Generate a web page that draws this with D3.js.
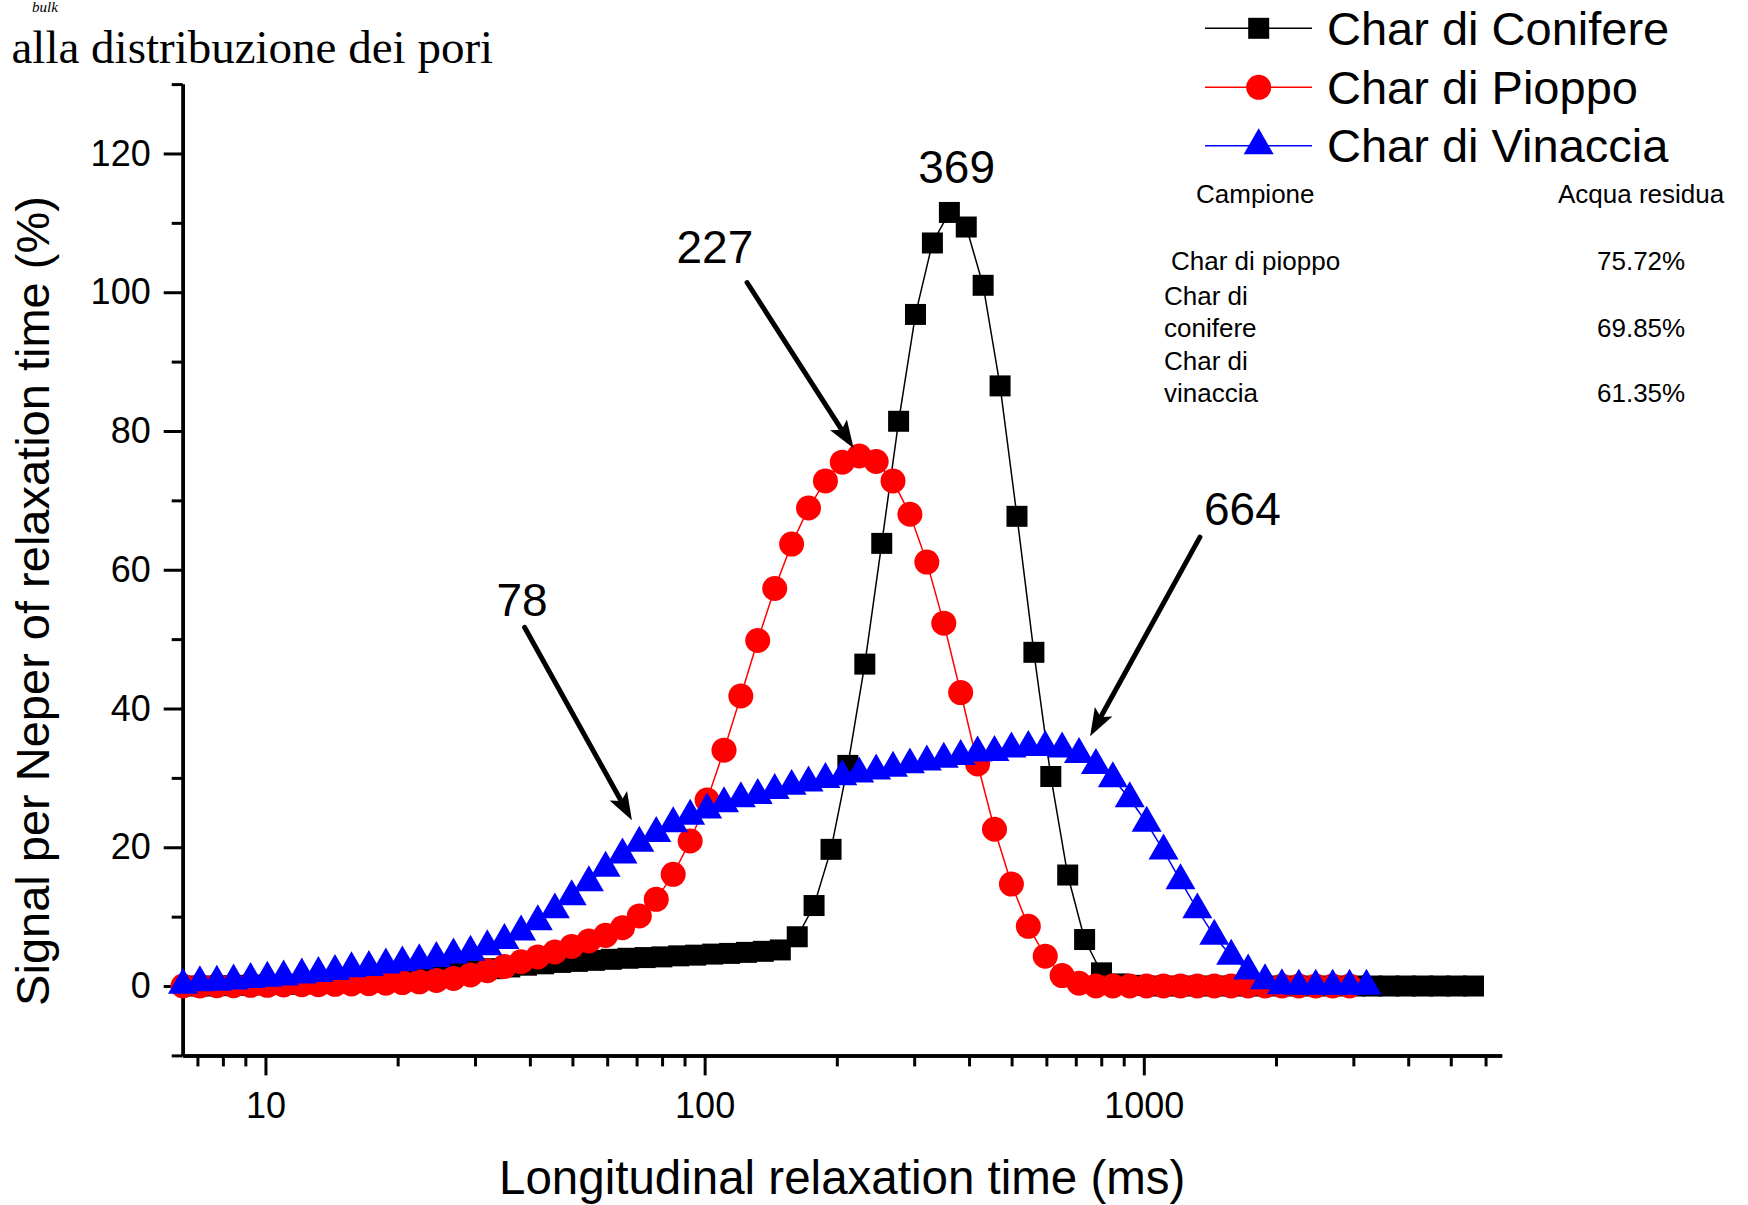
<!DOCTYPE html>
<html lang="it">
<head>
<meta charset="utf-8">
<title>Distribuzione dei tempi di rilassamento</title>
<script src="https://cdn.jsdelivr.net/npm/d3@7"></script>
<style>
  html, body { margin: 0; padding: 0; background: #fff; }
  svg { display: block; }
</style>
</head>
<body>
<div id="grafico"></div>
<script>
// Griglia dei tempi T1 (ms) per conifere
const tempiConifere = [6.68, 7.30, 7.98, 8.71, 9.52, 10.4, 11.4, 12.4, 13.6, 14.8,
  16.2, 17.7, 19.4, 21.2, 23.1, 25.3, 27.6, 30.2, 32.9, 36.0,
  39.3, 43.0, 47.0, 51.3, 56.1, 61.3, 66.9, 73.2, 79.9, 87.3,
  95.4, 104.3, 114.0, 124.5, 136.0, 148.7, 162.5, 177.5, 194.0, 211.9,
  231.6, 253.1, 276.5, 302.1, 330.1, 360.8, 394.2, 430.7, 470.7, 514.3,
  562.0, 614.1, 671.0, 733.2, 801.1, 875.4, 956.5, 1045, 1142, 1248,
  1363, 1490, 1628, 1779, 1944, 2124, 2321, 2536, 2772, 3028,
  3309, 3616, 3951, 4317, 4717, 5154, 5632];

// Griglia dei tempi T1 (ms) per pioppo e vinaccia
const tempiGriglia = [6.49, 7.09, 7.75, 8.46, 9.25, 10.1, 11.0, 12.1, 13.2, 14.4,
  15.7, 17.2, 18.8, 20.5, 22.4, 24.5, 26.8, 29.3, 32.0, 35.0,
  38.2, 41.7, 45.6, 49.8, 54.5, 59.5, 65.0, 71.0, 77.6, 84.8,
  92.7, 101.3, 110.7, 120.9, 132.1, 144.4, 157.8, 172.4, 188.4, 205.8,
  224.9, 245.8, 268.5, 293.4, 320.6, 350.4, 382.8, 418.3, 457.1, 499.5,
  545.8, 596.4, 651.6, 712.0, 778.0, 850.1, 928.9, 1015, 1109, 1212,
  1324, 1447, 1581, 1728, 1888, 2063, 2254, 2463, 2692, 2941, 3214];

// Segnale per Neper (%)
const conifere = [0, 0, 0.05, 0.1, 0.15, 0.2, 0.25, 0.3, 0.4, 0.5,
  0.6, 0.75, 0.9, 1.1, 1.35, 1.6, 1.9, 2.2, 2.5, 2.75,
  3.0, 3.2, 3.4, 3.55, 3.7, 3.85, 4.0, 4.1, 4.2, 4.35,
  4.45, 4.6, 4.7, 4.85, 5.0, 5.2, 7.1, 11.6, 19.7, 31.8,
  46.4, 63.8, 81.4, 96.8, 107.1, 111.5, 109.4, 101.0, 86.5, 67.7,
  48.1, 30.2, 16.0, 6.7, 1.9, 0.3, 0.1, 0, 0, 0,
  0, 0, 0, 0, 0, 0, 0, 0, 0, 0,
  0, 0, 0, 0, 0, 0, 0];

const pioppo = [0, 0, 0.05, 0.05, 0.1, 0.1, 0.15, 0.2, 0.2, 0.25,
  0.3, 0.35, 0.4, 0.5, 0.6, 0.8, 1.1, 1.6, 2.2, 2.8,
  3.5, 4.2, 4.9, 5.7, 6.5, 7.3, 8.4, 10.1, 12.5, 16.1,
  20.9, 26.8, 34.0, 41.8, 49.8, 57.3, 63.7, 68.9, 72.8, 75.5,
  76.4, 75.6, 72.8, 68.0, 61.1, 52.3, 42.3, 32.0, 22.6, 14.7,
  8.6, 4.3, 1.5, 0.4, 0, 0, 0, 0, 0, 0,
  0, 0, 0, 0, 0, 0, 0, 0, 0, 0];

const vinaccia = [0.15, 0.48, 0.58, 0.76, 0.95, 1.15, 1.34, 1.63, 1.82, 2.1,
  2.5, 2.7, 3.07, 3.36, 3.65, 4.0, 4.5, 4.9, 5.7, 6.6,
  7.8, 9.3, 11.0, 12.9, 14.9, 17.0, 18.9, 20.6, 22.0, 23.4,
  24.5, 25.4, 26.3, 27.0, 27.5, 28.2, 28.8, 29.3, 29.8, 30.2,
  30.6, 31.0, 31.4, 31.9, 32.3, 32.7, 33.1, 33.6, 33.7, 34.2,
  34.4, 34.4, 34.2, 33.4, 31.8, 29.9, 27.0, 23.5, 19.5, 15.2,
  11.0, 7.2, 4.3, 2.2, 0.8, 0.05, 0, 0, 0, 0, 0];

// Tick degli assi
const tickY = [0, 20, 40, 60, 80, 100, 120];
const tickYMinori = [-10, 10, 30, 50, 70, 90, 110, 130];
const tickX = [10, 100, 1000];
const tickXMinori = [7, 8, 9, 20, 30, 40, 50, 60, 70, 80, 90,
  200, 300, 400, 500, 600, 700, 800, 900, 2000, 3000, 4000, 5000, 6000];

// Legenda e tabella
const nomiSerie = ["Char di Conifere", "Char di Pioppo", "Char di Vinaccia"];
const campioni = [["Char di pioppo"], ["Char di", "conifere"], ["Char di", "vinaccia"]];
const acquaResidua = ["75.72%", "69.85%", "61.35%"];

// Etichette dei picchi (tempo ms, segnale %)
const etichette = ["227", "369", "664", "78"];
const etichetteT = [105.5, 374.8, 1677, 38.4];
const etichetteV = [104.2, 115.7, 66.5, 53.3];
// Frecce: [t inizio, v inizio, t punta, v punta]
const frecce = [[124.9, 101.4, 218.4, 77.5], [1342, 64.7, 754.6, 36.0], [38.9, 51.7, 68.3, 23.9]];

const font = "'Liberation Sans', Arial, sans-serif";
const serif = "'Liberation Serif', 'Times New Roman', serif";
const W = 1748, H = 1205;
const margin = { top: 84.1, left: 182.7 };
const width = 1319, height = 971.3;

const root = d3.select("#grafico").append("svg")
  .attr("width", W).attr("height", H)
  .style("font-family", font);

const svg = root.append("g")
  .attr("transform", `translate(${margin.left}, ${margin.top})`);

const x = d3.scaleLog().domain([6.48, 6530]).range([0, width]);
const y = d3.scaleLinear().domain([-10, 130]).range([height, 0]);

// Assi
function stileAsse(g) {
  g.select(".domain").attr("stroke", "#000").attr("stroke-width", 3.5);
  g.selectAll(".tick line").attr("stroke", "#000").attr("stroke-width", 3);
}

svg.append("g")
  .call(d3.axisLeft(y).tickValues(tickYMinori).tickSize(11).tickSizeOuter(0).tickFormat(""))
  .call(stileAsse);
const assey = svg.append("g")
  .call(d3.axisLeft(y).tickValues(tickY).tickSize(19).tickSizeOuter(0).tickPadding(13))
  .call(stileAsse);
assey.selectAll("text").attr("font-size", 36).attr("font-family", font).attr("fill", "#000");

svg.append("g")
  .attr("transform", `translate(0, ${height})`)
  .call(d3.axisBottom(x).tickValues(tickXMinori).tickSize(11).tickSizeOuter(0).tickFormat(""))
  .call(stileAsse);
const assex = svg.append("g")
  .attr("transform", `translate(0, ${height})`)
  .call(d3.axisBottom(x).tickValues(tickX).tickSize(20).tickSizeOuter(0).tickFormat(d3.format("d")).tickPadding(17))
  .call(stileAsse);
assex.selectAll("text").attr("font-size", 36).attr("font-family", font).attr("fill", "#000");

// Serie
const serie = [
  { tempi: tempiConifere, valori: conifere, colore: "#000000", simbolo: d3.symbolSquare, dim: 441 },
  { tempi: tempiGriglia, valori: pioppo, colore: "#ff0000", simbolo: d3.symbolCircle, dim: 491 },
  { tempi: tempiGriglia, valori: vinaccia, colore: "#0000ff", simbolo: d3.symbolTriangle, dim: 390 }
];

const linea = d3.line().x(d => x(d[0])).y(d => y(d[1]));

serie.forEach(s => {
  const punti = s.valori.map((v, i) => [s.tempi[i], v]);
  svg.append("path")
    .datum(punti)
    .attr("fill", "none")
    .attr("stroke", s.colore)
    .attr("stroke-width", 1.5)
    .attr("d", linea);
  svg.selectAll(null)
    .data(punti)
    .enter()
    .append("path")
    .attr("transform", d => `translate(${x(d[0])}, ${y(d[1])})`)
    .attr("d", d3.symbol().type(s.simbolo).size(s.dim))
    .attr("fill", s.colore);
});

// Etichette dei picchi e frecce
etichette.forEach((t, i) => {
  svg.append("text")
    .attr("x", x(etichetteT[i]))
    .attr("y", y(etichetteV[i]))
    .attr("text-anchor", "middle")
    .attr("font-size", 46)
    .text(t);
});

frecce.forEach(f => {
  const x1 = x(f[0]), y1 = y(f[1]), x2 = x(f[2]), y2 = y(f[3]);
  const ang = Math.atan2(y2 - y1, x2 - x1);
  const lung = 28, larg = 10;
  const bx = x2 - lung * Math.cos(ang), by = y2 - lung * Math.sin(ang);
  svg.append("line")
    .attr("x1", x1).attr("y1", y1)
    .attr("x2", bx + 4 * Math.cos(ang)).attr("y2", by + 4 * Math.sin(ang))
    .attr("stroke", "#000")
    .attr("stroke-width", 5)
    .attr("stroke-linecap", "round");
  svg.append("path")
    .attr("d", `M${x2},${y2}L${bx + larg * Math.sin(ang)},${by - larg * Math.cos(ang)}` +
      `L${bx + 6 * Math.cos(ang)},${by + 6 * Math.sin(ang)}` +
      `L${bx - larg * Math.sin(ang)},${by + larg * Math.cos(ang)}Z`)
    .attr("fill", "#000");
});

// Titoli degli assi
root.append("text")
  .attr("x", margin.left + width / 2)
  .attr("y", 1194)
  .attr("text-anchor", "middle")
  .attr("font-size", 47.5)
  .text("Longitudinal relaxation time (ms)");

root.append("text")
  .attr("transform", "translate(49, 601) rotate(-90)")
  .attr("text-anchor", "middle")
  .attr("font-size", 47)
  .text("Signal per Neper of relaxation time (%)");

// Legenda
const righeLegenda = [28.3, 87.3, 145.7];
serie.forEach((s, i) => {
  const g = root.append("g").attr("transform", `translate(0, ${righeLegenda[i]})`);
  g.append("line")
    .attr("x1", 1205).attr("x2", 1312)
    .attr("stroke", s.colore).attr("stroke-width", 1.5);
  g.append("path")
    .attr("transform", "translate(1258.7, 0)")
    .attr("d", d3.symbol().type(s.simbolo).size(s.dim))
    .attr("fill", s.colore);
  g.append("text")
    .attr("x", 1327)
    .attr("y", 16.7)
    .attr("font-size", 47)
    .text(nomiSerie[i]);
});

// Tabella acqua residua
const tabella = root.append("g").attr("font-size", 26);
tabella.append("text").attr("x", 1196).attr("y", 203).text("Campione");
tabella.append("text").attr("x", 1558).attr("y", 203).text("Acqua residua");
const righeTabella = [[270], [305, 337], [370, 402]];
const xCampione = [1171, 1164, 1164];
campioni.forEach((c, i) => {
  c.forEach((riga, j) => {
    tabella.append("text").attr("x", xCampione[i]).attr("y", righeTabella[i][j]).text(riga);
  });
  tabella.append("text")
    .attr("x", 1597)
    .attr("y", righeTabella[i][righeTabella[i].length - 1])
    .text(acquaResidua[i]);
});

// Frammenti di testo del documento originale
root.append("text")
  .attr("x", 11.5)
  .attr("y", 63.3)
  .attr("font-family", serif)
  .attr("font-size", 47)
  .text("alla distribuzione dei pori");

root.append("text")
  .attr("x", 32)
  .attr("y", 12)
  .attr("font-family", serif)
  .attr("font-style", "italic")
  .attr("font-size", 15)
  .text("bulk");
</script>
</body>
</html>
